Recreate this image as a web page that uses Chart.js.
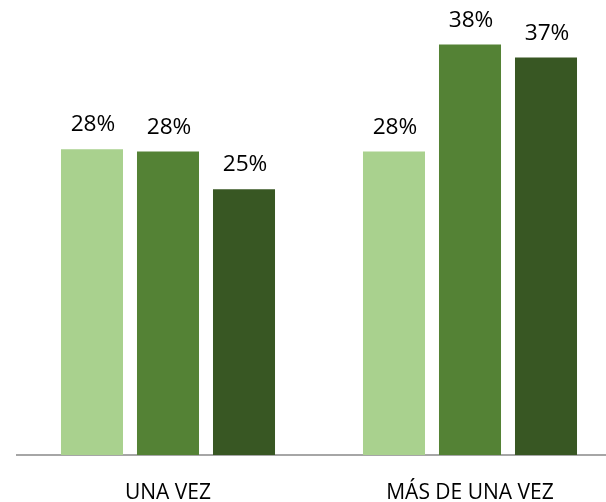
<!DOCTYPE html>
<html>
<head>
<meta charset="utf-8">
<script src="https://cdn.jsdelivr.net/npm/chart.js@4/dist/chart.umd.min.js"></script>
<style>
  html, body { margin: 0; padding: 0; background: #fff; overflow: hidden; }
  #wrap { width: 606px; height: 502px; overflow: hidden; }
  #wrap div { width: 640px; height: 502px; position: relative; }
</style>
</head>
<body>
<div id="wrap"><div><canvas id="chart"></canvas></div></div>
<script>
const categories = ['UNA VEZ', 'MÁS DE UNA VEZ'];
const seriesNames = ['Serie 1', 'Serie 2', 'Serie 3'];
const serie1 = [28.3, 28.1];
const serie2 = [28.1, 38.0];
const serie3 = [24.6, 36.8];
const valueLabels = [['28%', '28%'], ['28%', '38%'], ['25%', '37%']];
const colors = ['#a9d18e', '#548235', '#385723'];

// data labels above each bar
const barLabels = {
    id: 'barLabels',
    afterDatasetsDraw(chart) {
        const ctx = chart.ctx;
        ctx.save();
        ctx.fillStyle = '#000';
        ctx.font = '21px "Open Sans"';
        ctx.textAlign = 'center';
        ctx.textBaseline = 'alphabetic';
        chart.data.datasets.forEach((ds, i) => {
            chart.getDatasetMeta(i).data.forEach((bar, j) => {
                ctx.save();
                ctx.translate(bar.x + 1, bar.y - 18);
                ctx.scale(1.08, 1);
                ctx.fillText(valueLabels[i][j], 0, 0);
                ctx.restore();
            });
        });
        ctx.restore();
    }
};

const datasets = [serie1, serie2, serie3].map((vals, i) => ({
    label: seriesNames[i],
    data: vals,
    backgroundColor: colors[i],
    borderWidth: 0,
    categoryPercentage: 0.755,
    barPercentage: 0.816
}));

new Chart(document.getElementById('chart').getContext('2d'), {
    type: 'bar',
    data: { labels: categories, datasets: datasets },
    options: {
        responsive: true,
        maintainAspectRatio: false,
        animation: false,
        layout: { padding: { top: 23, left: 17, right: 19, bottom: 0 } },
        scales: {
            x: {
                grid: { display: false, drawTicks: false },
                border: { display: true, color: '#a6a6a6', width: 2 },
                ticks: {
                    color: '#000',
                    padding: 25,
                    font: { family: 'Open Sans', size: 21 }
                },
                afterFit: function(scale) { scale.height = 47; }
            },
            y: {
                display: false,
                min: 0,
                max: 40
            }
        },
        plugins: {
            legend: { display: false },
            tooltip: { enabled: false }
        }
    },
    plugins: [barLabels]
});
</script>
</body>
</html>
